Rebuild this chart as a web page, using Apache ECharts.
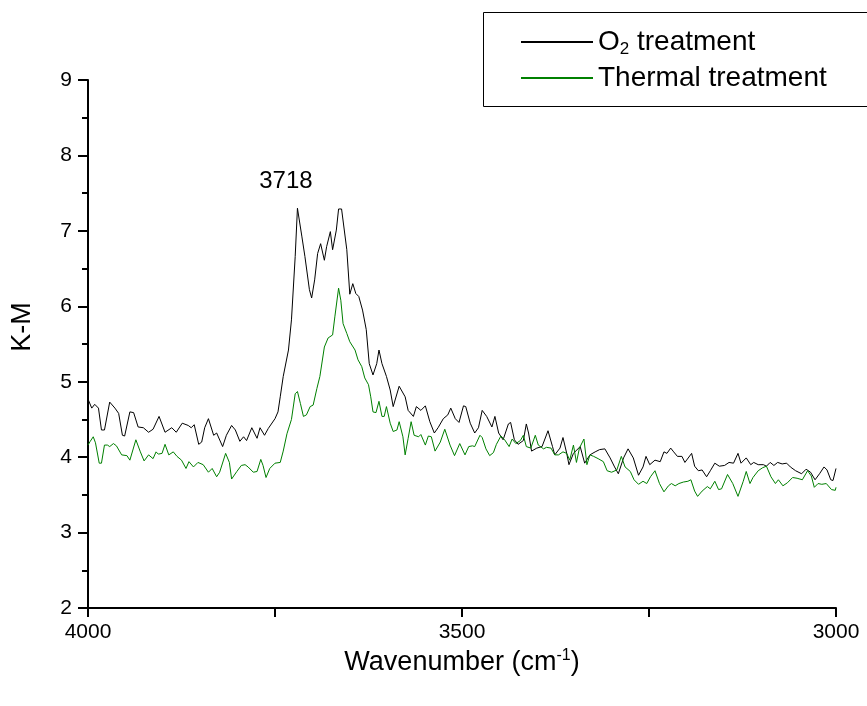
<!DOCTYPE html>
<html><head><meta charset="utf-8">
<script src="https://cdn.jsdelivr.net/npm/echarts@6/dist/echarts.min.js"></script>
<style>html,body{margin:0;padding:0;background:#fff}#c{width:867px;height:706px}</style>
</head><body><div id="c"></div>
<script>
const o2Wn = [4000,3995,3991,3986,3982,3978,3971,3964,3959,3954,3951,3944,3939,3933,3926,3919,3913,3905,3897,3888,3882,3874,3866,3862,3858,3852,3848,3844,3839,3832,3828,3820,3815,3808,3803,3797,3792,3788,3781,3774,3770,3764,3759,3750,3746,3743,3739,3732,3728,3723,3720,3714,3710,3704,3701,3697,3693,3689,3684,3681,3676,3673,3668,3665,3661,3659,3654,3650,3646,3642,3638,3633,3628,3624,3619,3614,3611,3607,3601,3596,3592,3584,3576,3572,3565,3561,3555,3549,3543,3537,3532,3525,3519,3515,3509,3504,3498,3495,3489,3483,3478,3473,3467,3460,3456,3451,3445,3438,3435,3430,3425,3418,3414,3411,3407,3400,3393,3385,3379,3376,3369,3365,3360,3357,3351,3342,3336,3329,3322,3316,3309,3302,3296,3291,3284,3278,3271,3264,3258,3254,3249,3242,3235,3230,3226,3221,3217,3212,3206,3202,3193,3189,3184,3179,3173,3168,3162,3156,3149,3143,3137,3131,3127,3120,3114,3110,3104,3097,3093,3088,3083,3078,3072,3066,3061,3054,3046,3040,3034,3028,3022,3016,3012,3007,3004,3000];
const o2Km = [4.77,4.65,4.70,4.65,4.36,4.36,4.73,4.65,4.58,4.29,4.28,4.60,4.59,4.40,4.39,4.33,4.37,4.54,4.33,4.39,4.33,4.45,4.42,4.39,4.43,4.17,4.20,4.39,4.51,4.29,4.32,4.14,4.29,4.42,4.36,4.21,4.27,4.22,4.39,4.25,4.39,4.29,4.38,4.51,4.60,4.80,5.07,5.42,5.82,6.66,7.30,6.92,6.66,6.22,6.11,6.35,6.70,6.83,6.61,6.79,6.99,6.75,7.01,7.29,7.29,7.30,6.75,6.16,6.30,6.17,6.13,5.95,5.69,5.24,5.09,5.24,5.42,5.24,5.07,4.89,4.67,4.94,4.80,4.62,4.54,4.67,4.62,4.68,4.47,4.32,4.39,4.51,4.56,4.65,4.51,4.46,4.68,4.67,4.45,4.32,4.39,4.62,4.54,4.40,4.54,4.32,4.23,4.44,4.46,4.23,4.17,4.22,4.44,4.32,4.08,4.12,4.14,4.35,4.14,4.03,4.12,4.26,4.05,3.90,4.05,4.14,3.92,4.03,4.07,4.10,4.11,3.99,3.87,3.78,3.99,4.11,3.99,3.76,3.87,4.01,3.90,3.96,3.94,4.07,4.05,4.12,4.07,4.01,4.01,3.93,4.05,3.88,3.82,3.83,3.74,3.82,3.92,3.88,3.89,3.93,3.92,4.05,3.92,3.99,3.90,3.93,3.90,3.90,3.88,3.93,3.89,3.93,3.91,3.92,3.87,3.82,3.78,3.84,3.80,3.70,3.78,3.87,3.83,3.70,3.69,3.85];

const thWn = [4000,3997,3993,3990,3985,3982,3978,3974,3971,3966,3962,3955,3948,3944,3936,3930,3925,3919,3913,3909,3906,3901,3897,3892,3886,3881,3875,3869,3865,3859,3853,3846,3839,3834,3828,3824,3816,3811,3808,3801,3795,3790,3786,3779,3774,3769,3766,3762,3757,3750,3743,3739,3734,3728,3723,3720,3716,3712,3708,3703,3699,3694,3690,3684,3679,3673,3670,3665,3662,3659,3654,3650,3643,3639,3634,3630,3625,3622,3619,3615,3611,3607,3604,3601,3596,3592,3587,3584,3579,3576,3572,3568,3564,3558,3555,3549,3545,3541,3536,3529,3523,3516,3510,3503,3496,3491,3486,3483,3476,3473,3468,3463,3458,3454,3448,3443,3437,3433,3428,3422,3418,3414,3408,3402,3398,3391,3387,3381,3376,3371,3365,3360,3356,3351,3347,3343,3337,3333,3329,3324,3318,3311,3306,3300,3293,3287,3282,3275,3270,3264,3258,3253,3248,3242,3236,3230,3224,3220,3215,3210,3204,3198,3194,3189,3185,3179,3172,3168,3162,3157,3153,3145,3138,3131,3124,3120,3115,3111,3104,3098,3093,3087,3081,3077,3071,3065,3058,3052,3045,3038,3033,3029,3024,3019,3013,3006,3001,3000];
const thKm = [4.16,4.21,4.27,4.19,3.92,3.92,4.16,4.16,4.14,4.18,4.15,4.03,4.02,3.96,4.23,4.07,3.95,4.03,3.98,4.07,4.04,4.05,4.17,4.03,4.07,4.01,3.96,3.85,3.94,3.87,3.93,3.90,3.80,3.85,3.74,3.80,4.05,3.93,3.71,3.81,3.89,3.90,3.87,3.80,3.81,3.97,3.89,3.73,3.85,3.92,3.93,4.08,4.31,4.50,4.84,4.87,4.71,4.54,4.56,4.67,4.69,4.91,5.07,5.46,5.58,5.62,5.86,6.24,6.08,5.77,5.64,5.53,5.42,5.29,5.20,5.05,4.96,4.80,4.60,4.59,4.74,4.54,4.54,4.67,4.45,4.34,4.36,4.47,4.27,4.03,4.25,4.47,4.29,4.27,4.30,4.16,4.28,4.27,4.08,4.20,4.37,4.16,4.02,4.18,4.03,4.14,4.15,4.14,4.29,4.26,4.11,4.02,4.06,4.17,4.28,4.23,4.14,4.24,4.18,4.22,4.29,4.14,4.12,4.29,4.16,4.11,4.13,4.12,4.03,4.03,4.07,4.05,3.96,4.16,3.93,4.12,4.24,3.90,4.03,4.01,3.98,3.94,3.82,3.80,3.83,4.01,3.87,3.81,3.70,3.64,3.68,3.65,3.74,3.82,3.65,3.54,3.62,3.65,3.62,3.65,3.67,3.68,3.70,3.55,3.48,3.55,3.61,3.58,3.68,3.57,3.58,3.77,3.65,3.48,3.68,3.81,3.65,3.73,3.82,3.86,3.88,3.74,3.65,3.70,3.62,3.66,3.73,3.72,3.70,3.82,3.75,3.60,3.65,3.64,3.65,3.57,3.56,3.60];

const seriesNames = ['O2 treatment', 'Thermal treatment'];
const xTickLabels = [4000, 3500, 3000];
const yTickLabels = [2,3,4,5,6,7,8,9];
const peakLabel = {wn: 3718, km: 7.30, text: '3718'};

const pair = (a, b) => a.map((x, i) => [x, b[i]]);
const FONT = 'Liberation Sans, Arial, sans-serif';

const chart = echarts.init(document.getElementById('c'), null, {renderer: 'canvas'});
chart.setOption({
  animation: false,
  backgroundColor: '#fff',
  grid: {left: 88, right: 31, top: 80, bottom: 98, containLabel: false},
  legend: {
    orient: 'vertical', left: 515, top: 19, itemGap: 0, itemWidth: 72, itemHeight: 2,
    data: seriesNames,
    formatter: n => n === 'O2 treatment' ? 'O{sub|2} treatment' : n,
    textStyle: {fontFamily: FONT, fontSize: 28, lineHeight: 36, color: '#000',
      rich: {sub: {fontFamily: FONT, fontSize: 17, lineHeight: 36, color: '#000', padding: [14, 0, 0, 0]}}}
  },
  graphic: [{type: 'rect', shape: {x: 483.5, y: 12.5, width: 400, height: 94}, style: {fill: 'none', stroke: '#000', lineWidth: 1}, z: 0}],
  xAxis: {
    type: 'value', inverse: true, min: 3000, max: 4000, interval: 250,
    name: 'Wavenumber (cm{sup|-1})', nameLocation: 'middle', nameGap: 38,
    nameTextStyle: {fontFamily: FONT, fontSize: 27, color: '#000',
      rich: {sup: {fontFamily: FONT, fontSize: 16, color: '#000', padding: [0, 0, 14, 0]}}},
    axisLine: {onZero: false, lineStyle: {color: '#000', width: 2}},
    axisTick: {length: 9, lineStyle: {color: '#000', width: 2}},
    axisLabel: {fontFamily: FONT, fontSize: 21, color: '#000', margin: 14,
      formatter: v => xTickLabels.includes(v) ? String(v) : ''},
    splitLine: {show: false}
  },
  yAxis: {
    type: 'value', min: 2, max: 9, interval: 1,
    name: 'K-M', nameLocation: 'middle', nameGap: 52, nameRotate: 90,
    nameTextStyle: {fontFamily: FONT, fontSize: 27, color: '#000', padding: [0, 0, 0, 34]},
    axisLine: {onZero: false, lineStyle: {color: '#000', width: 2}},
    axisTick: {length: 10, lineStyle: {color: '#000', width: 2}},
    minorTick: {show: true, splitNumber: 2, length: 6, lineStyle: {color: '#000', width: 2}},
    axisLabel: {fontFamily: FONT, fontSize: 21, color: '#000', margin: 16,
      formatter: v => yTickLabels.includes(v) ? String(v) : ''},
    splitLine: {show: false}
  },
  series: [
    {name: seriesNames[0], type: 'line', data: pair(o2Wn, o2Km), showSymbol: false, symbol: 'none',
      lineStyle: {color: '#000', width: 1}, itemStyle: {color: '#000'},
      markPoint: {symbol: 'circle', symbolSize: 0, silent: true,
        data: [{coord: [peakLabel.wn, peakLabel.km]}],
        label: {show: true, position: 'inside', offset: [-13, -27], formatter: peakLabel.text,
          fontFamily: FONT, fontSize: 24, color: '#000'}}},
    {name: seriesNames[1], type: 'line', data: pair(thWn, thKm), showSymbol: false, symbol: 'none',
      lineStyle: {color: '#008000', width: 1}, itemStyle: {color: '#008000'}}
  ]
});
</script></body></html>
